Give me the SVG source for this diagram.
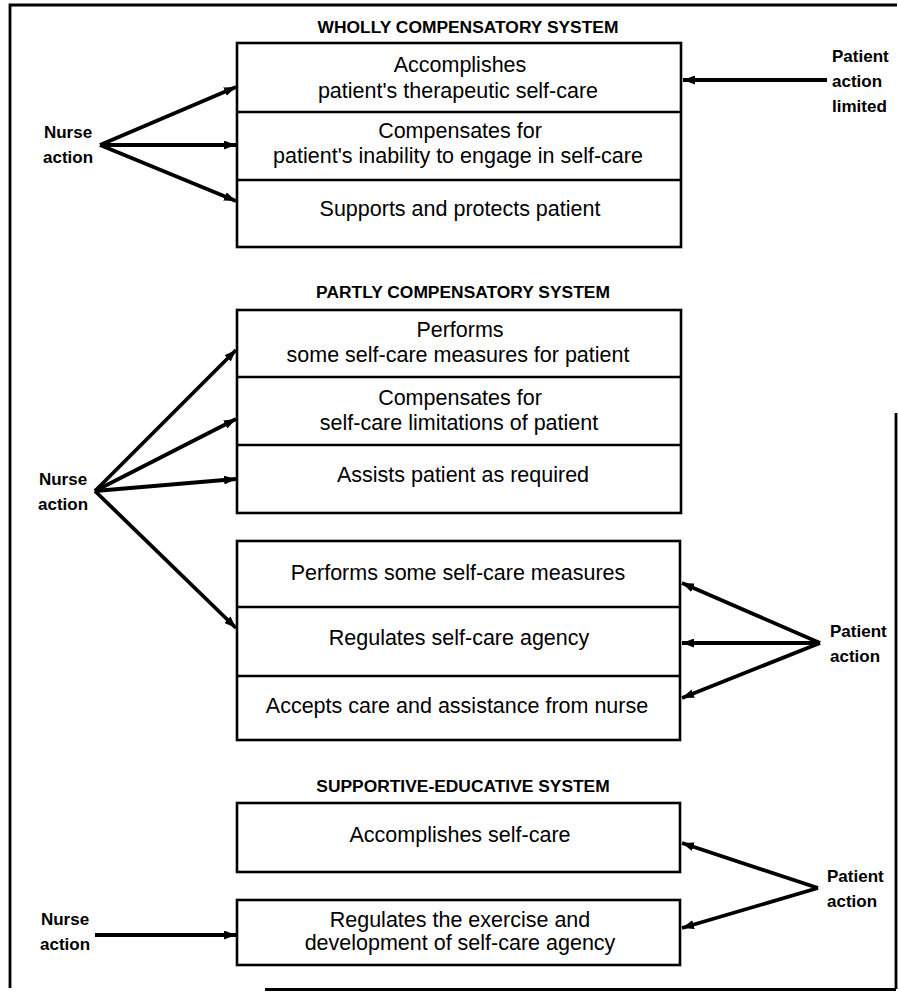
<svg xmlns="http://www.w3.org/2000/svg" width="898" height="992" viewBox="0 0 898 992">
<style>
.box{fill:none;stroke:#000;stroke-width:2.6}
.div{stroke:#000;stroke-width:2.6}
.t{font-family:"Liberation Sans",Arial,sans-serif;font-size:21.5px;fill:#000;text-anchor:middle}
.h{font-family:"Liberation Sans",Arial,sans-serif;font-size:17.4px;font-weight:bold;fill:#000;text-anchor:middle}
.lab{font-family:"Liberation Sans",Arial,sans-serif;font-size:17px;font-weight:bold;fill:#000}
.c{fill:none;stroke:#000;stroke-width:3.8;marker-end:url(#ah)}
.frame{fill:none;stroke:#000;stroke-width:2.8}
</style>
<defs>
<marker id="ah" viewBox="0 0 12 9" refX="12" refY="4.5" markerWidth="12" markerHeight="9" markerUnits="userSpaceOnUse" orient="auto">
<path d="M0,0 L12,4.5 L0,9 z" fill="#000"/>
</marker>
</defs>
<rect width="898" height="992" fill="#fff"/>
<g id="frame">
<path class="frame" d="M10,988 L10,5 L897,5"/>
<path class="frame" d="M896,413 L896,989"/>
<path class="frame" d="M265,989.5 L896,989.5"/>
</g>

<g id="wholly">
<text class="h" x="468" y="33">WHOLLY COMPENSATORY SYSTEM</text>
<rect class="box" x="237" y="43" width="444" height="204"/>
<line class="div" x1="237" y1="112" x2="681" y2="112"/>
<line class="div" x1="237" y1="180" x2="681" y2="180"/>
</g>
<g id="w1"><text class="t" x="460" y="72">Accomplishes</text><text class="t" x="458" y="98">patient's therapeutic self-care</text></g>
<g id="w2"><text class="t" x="460" y="138">Compensates for</text><text class="t" x="458" y="163">patient's inability to engage in self-care</text></g>
<g id="w3"><text class="t" x="460" y="216">Supports and protects patient</text></g>
<g id="nurse1"><text class="lab" x="68" y="138" text-anchor="middle">Nurse</text><text class="lab" x="68" y="163" text-anchor="middle">action</text></g>
<g id="patient1"><text class="lab" x="832" y="62">Patient</text><text class="lab" x="832" y="87">action</text><text class="lab" x="832" y="112">limited</text></g>

<g id="partly">
<text class="h" x="463" y="298">PARTLY COMPENSATORY SYSTEM</text>
<rect class="box" x="237" y="310" width="444" height="203"/>
<line class="div" x1="237" y1="377" x2="681" y2="377"/>
<line class="div" x1="237" y1="445" x2="681" y2="445"/>
</g>
<g id="p1"><text class="t" x="460" y="337">Performs</text><text class="t" x="458" y="362">some self-care measures for patient</text></g>
<g id="p2"><text class="t" x="460" y="405">Compensates for</text><text class="t" x="459" y="430">self-care limitations of patient</text></g>
<g id="p3"><text class="t" x="463" y="482">Assists patient as required</text></g>

<g id="partly2">
<rect class="box" x="237" y="541" width="443" height="199"/>
<line class="div" x1="237" y1="607" x2="680" y2="607"/>
<line class="div" x1="237" y1="676" x2="680" y2="676"/>
</g>
<g id="q1"><text class="t" x="458" y="580">Performs some self-care measures</text></g>
<g id="q2"><text class="t" x="459" y="645">Regulates self-care agency</text></g>
<g id="q3"><text class="t" x="457" y="713">Accepts care and assistance from nurse</text></g>
<g id="nurse2"><text class="lab" x="63" y="485" text-anchor="middle">Nurse</text><text class="lab" x="63" y="510" text-anchor="middle">action</text></g>
<g id="patient2"><text class="lab" x="830" y="637">Patient</text><text class="lab" x="830" y="662">action</text></g>

<g id="supportive">
<text class="h" x="463" y="792">SUPPORTIVE-EDUCATIVE SYSTEM</text>
</g>
<g id="s1"><rect class="box" x="237" y="803" width="443" height="69"/><text class="t" x="460" y="842">Accomplishes self-care</text></g>
<g id="s2"><rect class="box" x="237" y="900" width="443" height="65"/><text class="t" x="460" y="927">Regulates the exercise and</text><text class="t" x="460" y="950">development of self-care agency</text></g>
<g id="nurse3"><text class="lab" x="65" y="925" text-anchor="middle">Nurse</text><text class="lab" x="65" y="950" text-anchor="middle">action</text></g>
<g id="patient3"><text class="lab" x="827" y="882">Patient</text><text class="lab" x="827" y="907">action</text></g>

<g id="connectors">
<line class="c" x1="100" y1="145" x2="236" y2="87"/>
<line class="c" x1="100" y1="145" x2="236" y2="145"/>
<line class="c" x1="100" y1="145" x2="236" y2="201"/>
<line class="c" x1="827" y1="80" x2="683" y2="80"/>
<line class="c" x1="95" y1="491" x2="236" y2="350"/>
<line class="c" x1="95" y1="491" x2="236" y2="419"/>
<line class="c" x1="95" y1="491" x2="236" y2="479"/>
<line class="c" x1="95" y1="491" x2="236" y2="628"/>
<line class="c" x1="820" y1="643" x2="682" y2="583"/>
<line class="c" x1="820" y1="643" x2="682" y2="643"/>
<line class="c" x1="820" y1="643" x2="682" y2="698"/>
<line class="c" x1="95" y1="935" x2="236" y2="935"/>
<line class="c" x1="818" y1="888" x2="682" y2="843"/>
<line class="c" x1="818" y1="888" x2="682" y2="928"/>
</g>
</svg>
